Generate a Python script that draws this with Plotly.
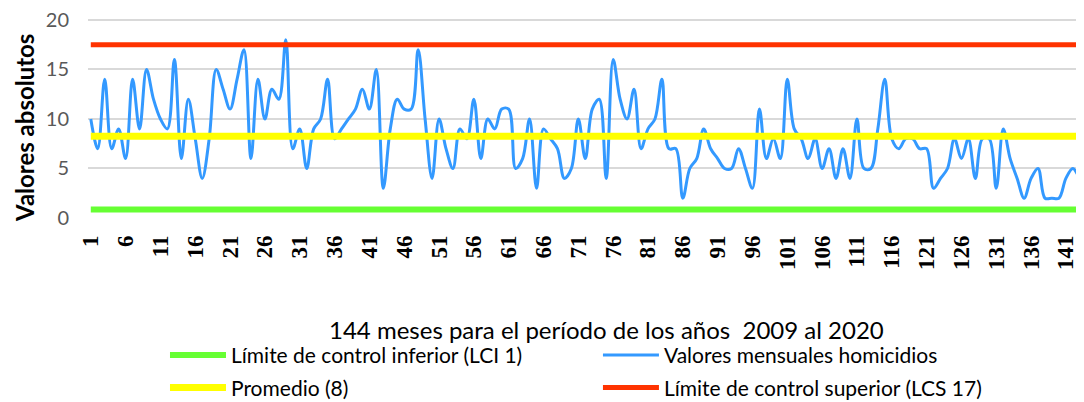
import plotly.graph_objects as go

months = list(range(1, 145))
homicidios = [
    10, 7, 14, 7, 9, 6, 14, 9, 15, 12,
    10, 9, 16, 6, 12, 8, 4, 8, 15, 13,
    11, 14, 17, 6, 14, 10, 13, 12, 18, 7,
    9, 5, 9, 10, 14, 8, 9, 10, 11, 13,
    11, 15, 3, 9, 12, 11, 11, 17, 10, 4,
    10, 7, 5, 9, 8, 12, 6, 10, 9, 11,
    11, 5, 6, 10, 3, 9, 8, 7, 4, 5,
    10, 6, 11, 12, 4, 16, 12, 10, 13, 7,
    9, 10, 14, 7, 7, 2, 5, 6, 9, 7,
    6, 5, 5, 7, 5, 3, 11, 6, 8, 6,
    14, 9, 8, 6, 8, 5, 7, 4, 7, 4,
    10, 5, 5, 9, 14, 8, 7, 8, 8, 7,
    7, 3, 4, 5, 8, 6, 8, 4, 8, 8,
    3, 9, 6, 4, 2, 4, 5, 2, 2, 2,
    4, 5, 4, 3,
]
lci = 0.85
promedio = 8.25
lcs = 17.5

tick_vals = list(range(1, 145, 5))
tick_text = [str(v) for v in tick_vals]

names = {
    "lci": "Límite de control inferior (LCI 1)",
    "val": "Valores mensuales homicidios",
    "prom": "Promedio (8)",
    "lcs": "Límite de control superior (LCS 17)",
}

fig = go.Figure()
fig.add_trace(go.Scatter(x=months, y=[lci] * len(months), mode="lines",
                         line=dict(color="#66ff33", width=6), name=names["lci"],
                         legend="legend", legendgroup="a"))
fig.add_trace(go.Scatter(x=months, y=homicidios, mode="lines",
                         line=dict(color="#3399ff", width=3, shape="spline", smoothing=1),
                         name=names["val"], legend="legend2", legendgroup="b"))
fig.add_trace(go.Scatter(x=months, y=[promedio] * len(months), mode="lines",
                         line=dict(color="#ffff00", width=7), name=names["prom"],
                         legend="legend", legendgroup="c"))
fig.add_trace(go.Scatter(x=months, y=[lcs] * len(months), mode="lines",
                         line=dict(color="#ff3300", width=5), name=names["lcs"],
                         legend="legend2", legendgroup="d"))

font_family = "Lato, Liberation Sans, sans-serif"

fig.update_layout(
    width=1076, height=394,
    margin=dict(l=80, r=0, t=8, b=184, autoexpand=False),
    plot_bgcolor="white", paper_bgcolor="white",
    showlegend=True,
    legend=dict(x=0.0773, y=-0.579, xanchor="left", yanchor="top", orientation="v",
                font=dict(family=font_family, size=21, color="black"),
                tracegroupgap=2, itemwidth=56, bgcolor="rgba(0,0,0,0)"),
    legend2=dict(x=0.512, y=-0.579, xanchor="left", yanchor="top", orientation="v",
                 font=dict(family=font_family, size=21, color="black"),
                 tracegroupgap=2, itemwidth=56, bgcolor="rgba(0,0,0,0)"),
    xaxis=dict(range=[0.6, 143.6], tickmode="array", tickvals=tick_vals, ticktext=tick_text,
               tickangle=-90, showgrid=False, zeroline=False, showline=False, ticks="",
               ticklabelstandoff=12, automargin=False,
               tickfont=dict(family="Liberation Serif", size=23, color="black", weight="bold")),
    yaxis=dict(range=[0, 20.4], tickvals=[0, 5, 10, 15, 20], showgrid=True,
               gridcolor="#d9d9d9", gridwidth=1.5, zeroline=False, showline=False, ticks="",
               ticklabelstandoff=18, automargin=False, ticklabeloverflow="allow",
               tickfont=dict(family=font_family, size=20, color="#595959")),
    annotations=[
        dict(text="144 meses para el período de los años  2009 al 2020", xref="paper", yref="paper",
             x=0.521, y=-0.550, xanchor="center", yanchor="middle", showarrow=False,
             font=dict(family=font_family, size=24, color="black")),
        dict(text="<b>Valores absolutos</b>", xref="paper", yref="paper",
             x=-0.0643, y=0.4455, xanchor="center", yanchor="middle", showarrow=False,
             textangle=-90, font=dict(family=font_family, size=24, color="black")),
    ],
)

fig.write_html("out.html")
